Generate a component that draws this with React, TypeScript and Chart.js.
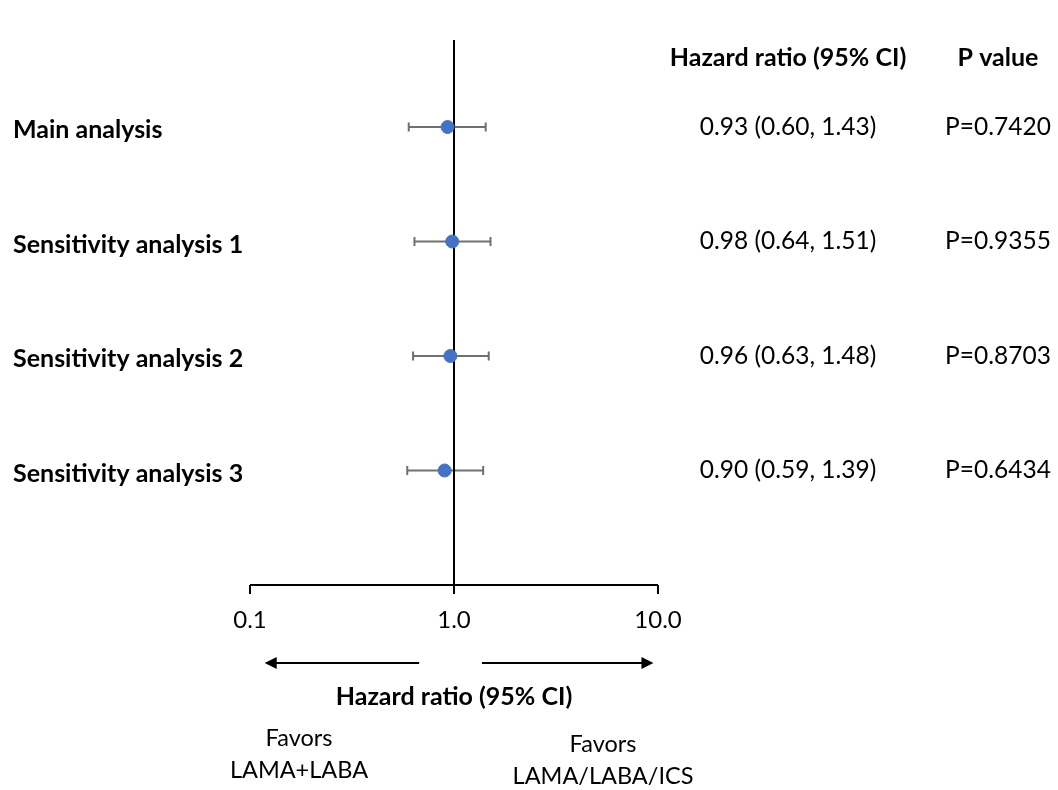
import React, { useEffect, useRef } from "react";
import { Chart, registerables } from "chart.js";

Chart.register(...registerables);

const analyses = ["Main analysis", "Sensitivity analysis 1", "Sensitivity analysis 2", "Sensitivity analysis 3"];
const hazardRatios = [0.93, 0.98, 0.96, 0.90];
const ciLower = [0.60, 0.64, 0.63, 0.59];
const ciUpper = [1.43, 1.51, 1.48, 1.39];
const pValues = ["P=0.7420", "P=0.9355", "P=0.8703", "P=0.6434"];
const xTicks = [0.1, 1, 10];
const xTickLabels = ["0.1", "1.0", "10.0"];

const FONT = "Lato, 'Open Sans', sans-serif";

const forestPlugin = {
  id: "forest",
  beforeDatasetsDraw(chart: any) {
    const ctx = chart.ctx;
    const xs = chart.scales.x;
    const ys = chart.scales.y;
    ctx.save();
    ctx.strokeStyle = "#707070";
    ctx.lineWidth = 2;
    analyses.forEach((_, i) => {
      const y = ys.getPixelForValue(i + 1);
      const x1 = xs.getPixelForValue(ciLower[i]);
      const x2 = xs.getPixelForValue(ciUpper[i]);
      ctx.beginPath();
      ctx.moveTo(x1, y);
      ctx.lineTo(x2, y);
      ctx.moveTo(x1, y - 4.5);
      ctx.lineTo(x1, y + 4.5);
      ctx.moveTo(x2, y - 4.5);
      ctx.lineTo(x2, y + 4.5);
      ctx.stroke();
    });
    const x1 = xs.getPixelForValue(1);
    ctx.strokeStyle = "#000";
    ctx.lineWidth = 2;
    ctx.beginPath();
    ctx.moveTo(x1, chart.chartArea.top);
    ctx.lineTo(x1, chart.chartArea.bottom);
    ctx.stroke();
    ctx.restore();
  },
  afterDraw(chart: any) {
    const ctx = chart.ctx;
    const xs = chart.scales.x;
    const ys = chart.scales.y;
    const { left, right, bottom } = chart.chartArea;
    ctx.save();
    ctx.strokeStyle = "#000";
    ctx.lineWidth = 2;
    ctx.beginPath();
    ctx.moveTo(left, bottom);
    ctx.lineTo(right, bottom);
    xTicks.forEach((t) => {
      const x = xs.getPixelForValue(t);
      ctx.moveTo(x, bottom);
      ctx.lineTo(x, bottom + 9);
    });
    ctx.stroke();
    ctx.fillStyle = "#000";
    ctx.textBaseline = "middle";
    ctx.textAlign = "center";
    ctx.font = `24px ${FONT}`;
    xTicks.forEach((t, i) => {
      ctx.fillText(xTickLabels[i], xs.getPixelForValue(t), bottom + 35);
    });
    const arrowY = bottom + 78;
    const drawArrow = (xFrom: number, xTo: number) => {
      const dir = Math.sign(xTo - xFrom);
      ctx.beginPath();
      ctx.lineWidth = 2;
      ctx.moveTo(xFrom, arrowY);
      ctx.lineTo(xTo - dir * 8, arrowY);
      ctx.stroke();
      ctx.beginPath();
      ctx.moveTo(xTo, arrowY);
      ctx.lineTo(xTo - dir * 12, arrowY - 6);
      ctx.lineTo(xTo - dir * 12, arrowY + 6);
      ctx.closePath();
      ctx.fill();
    };
    drawArrow(xs.getPixelForValue(0.675), xs.getPixelForValue(0.118));
    drawArrow(xs.getPixelForValue(1.37), xs.getPixelForValue(9.5));
    ctx.font = `bold 25px ${FONT}`;
    ctx.fillText("Hazard ratio (95% CI)", xs.getPixelForValue(1), bottom + 112);
    ctx.font = `23.5px ${FONT}`;
    ctx.fillText("Favors", 299, bottom + 153);
    ctx.fillText("LAMA+LABA", 299, bottom + 185);
    ctx.fillText("Favors", 603, bottom + 159);
    ctx.fillText("LAMA/LABA/ICS", 603, bottom + 191);
    ctx.textAlign = "left";
    ctx.font = `bold 25px ${FONT}`;
    analyses.forEach((a, i) => {
      ctx.fillText(a, 13, ys.getPixelForValue(i + 1) + 3);
    });
    ctx.textAlign = "center";
    ctx.fillText("Hazard ratio (95% CI)", 788, 58);
    ctx.fillText("P value", 998, 58);
    ctx.font = `24.5px ${FONT}`;
    analyses.forEach((_, i) => {
      const y = ys.getPixelForValue(i + 1);
      const txt = `${hazardRatios[i].toFixed(2)} (${ciLower[i].toFixed(2)}, ${ciUpper[i].toFixed(2)})`;
      ctx.fillText(txt, 788, y);
      ctx.fillText(pValues[i], 998, y);
    });
    ctx.restore();
  },
};

export default function App() {
  const ref = useRef<HTMLCanvasElement | null>(null);
  useEffect(() => {
    if (!ref.current) return;
    const chart = new Chart(ref.current, {
      type: "scatter",
      data: {
        datasets: [
          {
            data: hazardRatios.map((v, i) => ({ x: v, y: i + 1 })),
            backgroundColor: "#4472C4",
            borderColor: "#4472C4",
            pointRadius: 6.5,
            pointHoverRadius: 6.5,
          },
        ],
      },
      options: {
        animation: false,
        responsive: false,
        maintainAspectRatio: false,
        layout: { padding: { left: 250, right: 400, top: 40, bottom: 205 } },
        plugins: { legend: { display: false }, tooltip: { enabled: false } },
        scales: {
          x: { type: "logarithmic", min: 0.1, max: 10, display: false },
          y: { type: "linear", min: 0.24, max: 5.0, reverse: true, display: false },
        },
      },
      plugins: [forestPlugin],
    });
    return () => chart.destroy();
  }, []);
  return (
    <div style={{ position: "absolute", left: 0, top: 0, width: 1058, height: 790, background: "#fff" }}>
      <canvas ref={ref} width={1058} height={790} style={{ width: 1058, height: 790 }} />
    </div>
  );
}
